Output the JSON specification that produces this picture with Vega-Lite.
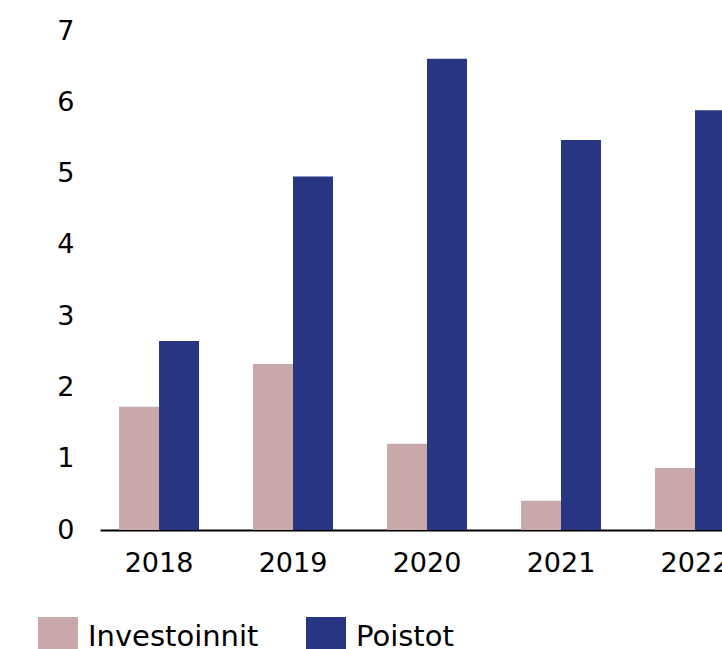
{
  "$schema": "https://vega.github.io/schema/vega-lite/v6.json",
  "autosize": "none",
  "width": 622,
  "height": 499,
  "padding": {"left": 100, "top": 31, "right": 0, "bottom": 119},
  "background": "white",
  "data": {
    "values": [
      {"year": "2018", "series": "Investoinnit", "value": 1.73},
      {"year": "2018", "series": "Poistot", "value": 2.65},
      {"year": "2019", "series": "Investoinnit", "value": 2.33},
      {"year": "2019", "series": "Poistot", "value": 4.96},
      {"year": "2020", "series": "Investoinnit", "value": 1.21},
      {"year": "2020", "series": "Poistot", "value": 6.61},
      {"year": "2021", "series": "Investoinnit", "value": 0.41},
      {"year": "2021", "series": "Poistot", "value": 5.47},
      {"year": "2022", "series": "Investoinnit", "value": 0.87},
      {"year": "2022", "series": "Poistot", "value": 5.89}
    ]
  },
  "mark": {"type": "bar"},
  "encoding": {
    "x": {
      "field": "year",
      "type": "nominal",
      "scale": {"range": [0, 654], "paddingInner": 0.403, "paddingOuter": 0.142},
      "axis": {
        "title": null,
        "labelAngle": 0,
        "ticks": false,
        "domainColor": "#000000",
        "domainWidth": 2,
        "labelFont": "DejaVu Sans",
        "labelFontSize": 27,
        "labelColor": "#000000",
        "labelPadding": 20
      }
    },
    "xOffset": {"field": "series", "type": "nominal", "sort": ["Investoinnit", "Poistot"]},
    "y": {
      "field": "value",
      "type": "quantitative",
      "scale": {"domain": [0, 7]},
      "axis": {
        "title": null,
        "grid": false,
        "domain": false,
        "ticks": false,
        "values": [0, 1, 2, 3, 4, 5, 6, 7],
        "labelFont": "DejaVu Sans",
        "labelFontSize": 27,
        "labelColor": "#000000",
        "labelPadding": 26
      }
    },
    "color": {
      "field": "series",
      "type": "nominal",
      "scale": {"domain": ["Investoinnit", "Poistot"], "range": ["#c9a8aa", "#283583"]},
      "legend": {
        "title": null,
        "orient": "none",
        "direction": "horizontal",
        "legendX": -62,
        "legendY": 586,
        "symbolType": "square",
        "symbolSize": 1600,
        "symbolStrokeWidth": 0,
        "symbolOpacity": 1,
        "labelFont": "DejaVu Sans",
        "labelFontSize": 29,
        "labelColor": "#000000",
        "labelOffset": 10,
        "labelLimit": 0,
        "columnPadding": 47,
        "padding": 0
      }
    }
  },
  "config": {"view": {"stroke": null}}
}
